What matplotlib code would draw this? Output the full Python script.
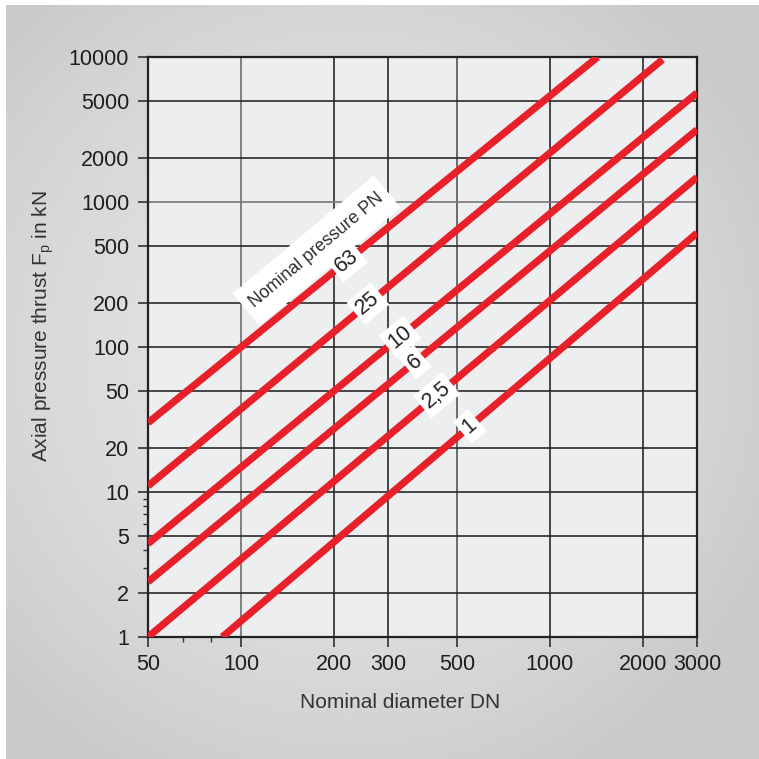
import numpy as np
import matplotlib
matplotlib.use("Agg")
import matplotlib.pyplot as plt
from matplotlib.patches import Rectangle
from matplotlib.transforms import Affine2D
from matplotlib.ticker import NullFormatter, FixedLocator

plt.rcParams['font.family'] = ['Liberation Sans', 'DejaVu Sans']
plt.rcParams['mathtext.fontset'] = 'custom'
plt.rcParams['mathtext.rm'] = 'Liberation Sans'

# ---------------- data ----------------
dn_ticks = [50, 100, 200, 300, 500, 1000, 2000, 3000]
dn_tick_labels = ["50", "100", "200", "300", "500", "1000", "2000", "3000"]
f_ticks = [1, 2, 5, 10, 20, 50, 100, 200, 500, 1000, 2000, 5000, 10000]
f_tick_labels = ["1", "2", "5", "10", "20", "50", "100", "200", "500",
                 "1000", "2000", "5000", "10000"]
f_minor = [3, 4, 6, 7, 8, 9]
dn_minor = [65, 80]

pn_labels = ["63", "25", "10", "6", "2,5", "1"]
dn_start = [50, 50, 50, 50, 50, 87]
f_start = [30, 11, 4.4, 2.4, 1.0, 1.0]
dn_end = [1430, 2320, 3000, 3000, 3000, 3000]
f_end = [10000, 9600, 5650, 3150, 1480, 610]
label_dn = [220, 258, 327, 366, 431, 551]

title_label = "Nominal pressure PN"
title_pos = (176, 462)

# ---------------- figure ----------------
W = H = 759
fig = plt.figure(figsize=(W / 100, H / 100), dpi=100, facecolor="white")

# background gradient
bg = fig.add_axes([6 / W, 0, 1 - 6 / W, 1 - 5 / H], zorder=-10)
yy, xx = np.mgrid[0:1:300j, 0:1:300j]
r = np.sqrt(((xx - 0.45) / 0.62) ** 2 + ((yy - 0.47) / 0.62) ** 2)
r = np.clip(r, 0, 1.0)
v = 0.89 - 0.10 * r ** 2
img = np.dstack([v, v + 0.003, v + 0.012])
img = np.clip(img, 0, 1)
bg.imshow(img, aspect="auto", extent=[0, 1, 0, 1], origin="upper")
bg.set_axis_off()

ax = fig.add_axes([148 / W, 1 - 637 / H, (697 - 148) / W, (637 - 57) / H])
ax.set_facecolor("#eceef0")
ax.set_xscale("log")
ax.set_yscale("log")
ax.set_xlim(50, 3000)
ax.set_ylim(1, 10000)

# grid
light_x = {100: "#6e6e6e", 500: "#555555"}
light_y = {1000: "#777777"}
for xv in dn_ticks[1:-1]:
    ax.axvline(xv, color=light_x.get(xv, "#2a2a2a"), lw=1.2, zorder=1)
for yv in f_ticks[1:-1]:
    ax.axhline(yv, color=light_y.get(yv, "#2a2a2a"), lw=1.2, zorder=1)

for s in ax.spines.values():
    s.set_color("#222222")
    s.set_linewidth(1.6)

ax.xaxis.set_major_locator(FixedLocator(dn_ticks))
ax.set_xticklabels(dn_tick_labels)
ax.yaxis.set_major_locator(FixedLocator(f_ticks))
ax.set_yticklabels(f_tick_labels)
ax.xaxis.set_minor_locator(FixedLocator(dn_minor))
ax.yaxis.set_minor_locator(FixedLocator(f_minor))
ax.xaxis.set_minor_formatter(NullFormatter())
ax.yaxis.set_minor_formatter(NullFormatter())
ax.tick_params(which="major", length=7.5, width=1.1, color="#222222",
               labelsize=15.5, labelcolor="#1e1e1e", pad=5)
ax.tick_params(which="minor", length=3.6, width=1.0, color="#333333")
ax.tick_params(axis="y", which="major", pad=6)

# red lines
red = "#e8202a"
for i in range(len(pn_labels)):
    ax.plot([dn_start[i], dn_end[i]], [f_start[i], f_end[i]], color=red,
            lw=5.2, solid_capstyle="butt", zorder=3)

def disp_angle(x0, y0, x1, y1):
    p0 = ax.transData.transform((x0, y0))
    p1 = ax.transData.transform((x1, y1))
    return np.degrees(np.arctan2(p1[1] - p0[1], p1[0] - p0[0]))

for i, lab in enumerate(pn_labels):
    lx0, lx1 = np.log(dn_start[i]), np.log(dn_end[i])
    ly0, ly1 = np.log(f_start[i]), np.log(f_end[i])
    t = (np.log(label_dn[i]) - lx0) / (lx1 - lx0)
    fy = np.exp(ly0 + t * (ly1 - ly0))
    ang = disp_angle(dn_start[i], f_start[i], dn_end[i], f_end[i])
    ax.text(label_dn[i], fy, lab, rotation=ang, rotation_mode="anchor",
            ha="center", va="center", fontsize=15.5, color="#222222",
            zorder=6,
            bbox=dict(boxstyle="square,pad=0.18", fc="white", ec="none"))

# "Nominal pressure PN" with white rotated box
ang0 = disp_angle(dn_start[4], f_start[4], dn_end[4], f_end[4])
pc = ax.transData.transform(title_pos)
box_w, box_h = 184, 42
rect = Rectangle((-box_w / 2, -box_h / 2), box_w, box_h, fc="white",
                 ec="none", zorder=4,
                 transform=Affine2D().rotate_deg(ang0).translate(pc[0], pc[1]))
rect.set_clip_on(False)
ax.add_artist(rect)
ax.text(title_pos[0], title_pos[1], title_label, rotation=ang0,
        rotation_mode="anchor", ha="center", va="center", fontsize=12.8,
        color="#2e2e2e", zorder=6)

# axis labels
fig.text(400 / W, 1 - 703 / H, "Nominal diameter DN", ha="center",
         va="center", fontsize=15, color="#333333")
fig.text(43 / W, 1 - 326 / H, "Axial pressure thrust F$_{\\mathrm{p}}$ in kN",
         ha="center", va="center", rotation=90, fontsize=15, color="#333333")

fig.savefig("out.png", dpi=100, facecolor="white")
